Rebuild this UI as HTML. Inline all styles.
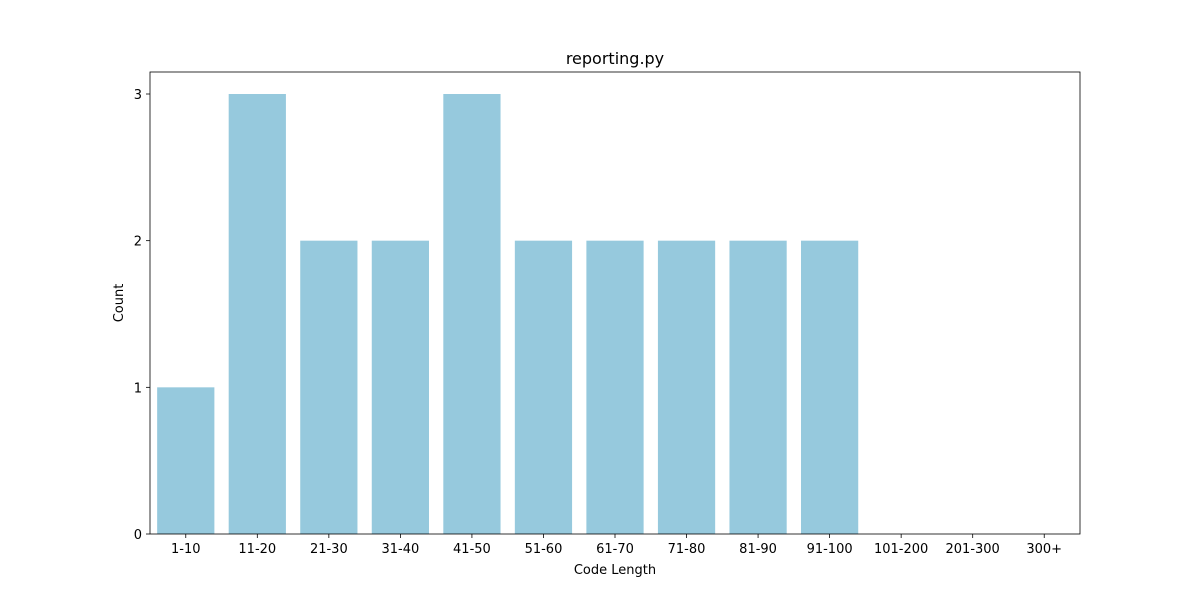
<!DOCTYPE html>
<html><head><meta charset="utf-8"><style>
body{margin:0;background:#fff;}
svg text{font-family:"DejaVu Sans","Liberation Sans",sans-serif;fill:#000;}
</style></head><body>
<svg id="chart" width="1200" height="600">
<rect width="1200" height="600" fill="#fff"/>
<text x="615" y="64" font-size="16" text-anchor="middle">reporting.py</text>
<g id="bars"></g>
<g id="axes"></g>
<text x="615" y="574" font-size="13" text-anchor="middle">Code Length</text>
<text transform="translate(123,303) rotate(-90)" font-size="13" text-anchor="middle">Count</text>
</svg>
<script>
const categories=["1-10","11-20","21-30","31-40","41-50","51-60","61-70","71-80","81-90","91-100","101-200","201-300","300+"];
const counts=[1,3,2,2,3,2,2,2,2,2,0,0,0];
const yTicks=[0,1,2,3];
const L=150,R=1080,T=72,B=534;
const ymax=Math.max(...counts)*1.05||1;
const xs=i=>L+(i+0.5)*(R-L)/categories.length;
const ys=v=>B-v/ymax*(B-T);
const bw=0.8*(R-L)/categories.length;
const NS="http://www.w3.org/2000/svg";
const bars=document.getElementById('bars'),axes=document.getElementById('axes');
function mk(tag,attrs,parent){const e=document.createElementNS(NS,tag);for(const k in attrs)e.setAttribute(k,attrs[k]);parent.appendChild(e);return e;}
categories.forEach((c,i)=>{
 const r=mk('rect',{x:xs(i)-bw/2,y:ys(counts[i]),width:bw,height:B-ys(counts[i]),fill:'#96c9dd'},bars);
 
 
 const t=mk('line',{x1:xs(i),x2:xs(i),y1:B,y2:B+4,stroke:'#000','stroke-width':0.8},axes);
 const tx=mk('text',{x:xs(i),y:B+19,'font-size':13,'text-anchor':'middle'},axes);
 tx.textContent=c;
 
 
});
yTicks.forEach(v=>{
 mk('line',{x1:L-4,x2:L,y1:ys(v),y2:ys(v),stroke:'#000','stroke-width':0.8},axes);
 const tx=mk('text',{x:L-8,y:ys(v)+5,'font-size':13,'text-anchor':'end'},axes);
 tx.textContent=v;
 
 
});
const f=mk('rect',{x:L,y:T,width:R-L,height:B-T,fill:'none',stroke:'#000','stroke-width':0.8},axes);


</script>
</body></html>
